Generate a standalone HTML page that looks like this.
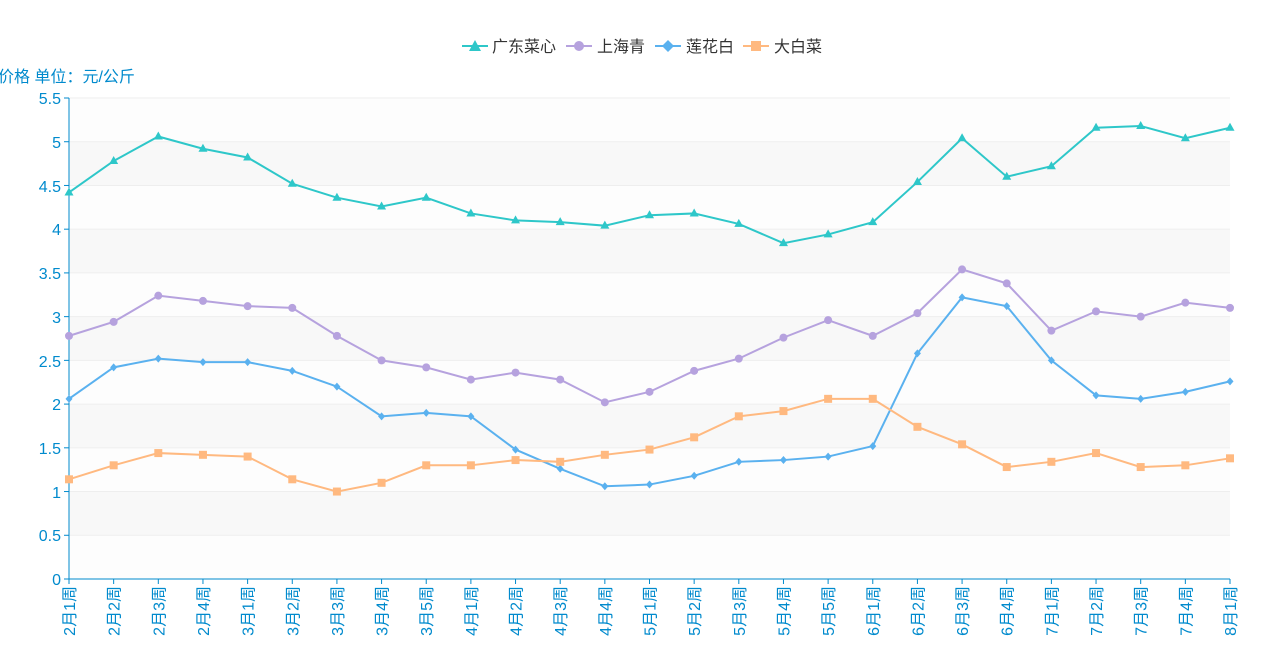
<!DOCTYPE html>
<html><head><meta charset="utf-8"><style>body{margin:0;background:#fff}svg{display:block;font-family:"Liberation Sans","Noto Sans CJK SC",sans-serif}</style></head>
<body>
<svg id="s" width="1282" height="658" viewBox="0 0 1282 658">
<g id="bands"></g>
<g font-size="16" fill="#008acd" text-anchor="end">
<text x="61" y="585">0</text><text x="61" y="541">0.5</text><text x="61" y="498">1</text><text x="61" y="454">1.5</text><text x="61" y="410">2</text><text x="61" y="367">2.5</text><text x="61" y="323">3</text><text x="61" y="279">3.5</text><text x="61" y="235">4</text><text x="61" y="192">4.5</text><text x="61" y="148">5</text><text x="61" y="104">5.5</text>
</g>
<text x="-2" y="82" font-size="16" fill="#008acd">价格 单位：元/公斤</text>
<g font-size="16" fill="#008acd" text-anchor="end">
<text transform="translate(75,586) rotate(-90)">2月1周</text>
<text transform="translate(119.7,586) rotate(-90)">2月2周</text>
<text transform="translate(164.3,586) rotate(-90)">2月3周</text>
<text transform="translate(209,586) rotate(-90)">2月4周</text>
<text transform="translate(253.6,586) rotate(-90)">3月1周</text>
<text transform="translate(298.3,586) rotate(-90)">3月2周</text>
<text transform="translate(342.9,586) rotate(-90)">3月3周</text>
<text transform="translate(387.6,586) rotate(-90)">3月4周</text>
<text transform="translate(432.2,586) rotate(-90)">3月5周</text>
<text transform="translate(476.9,586) rotate(-90)">4月1周</text>
<text transform="translate(521.5,586) rotate(-90)">4月2周</text>
<text transform="translate(566.2,586) rotate(-90)">4月3周</text>
<text transform="translate(610.8,586) rotate(-90)">4月4周</text>
<text transform="translate(655.5,586) rotate(-90)">5月1周</text>
<text transform="translate(700.2,586) rotate(-90)">5月2周</text>
<text transform="translate(744.8,586) rotate(-90)">5月3周</text>
<text transform="translate(789.5,586) rotate(-90)">5月4周</text>
<text transform="translate(834.1,586) rotate(-90)">5月5周</text>
<text transform="translate(878.8,586) rotate(-90)">6月1周</text>
<text transform="translate(923.4,586) rotate(-90)">6月2周</text>
<text transform="translate(968.1,586) rotate(-90)">6月3周</text>
<text transform="translate(1012.7,586) rotate(-90)">6月4周</text>
<text transform="translate(1057.4,586) rotate(-90)">7月1周</text>
<text transform="translate(1102,586) rotate(-90)">7月2周</text>
<text transform="translate(1146.7,586) rotate(-90)">7月3周</text>
<text transform="translate(1191.4,586) rotate(-90)">7月4周</text>
<text transform="translate(1236,586) rotate(-90)">8月1周</text>
</g>
<g font-size="16" fill="#333">
<line x1="462" y1="46" x2="488" y2="46" stroke="#2ec7c9" stroke-width="2"/><polygon points="475,40 481,51 469,51" fill="#2ec7c9"/><text x="492" y="52">广东菜心</text>
<line x1="566" y1="46" x2="592" y2="46" stroke="#b6a2de" stroke-width="2"/><circle cx="579" cy="46" r="5" fill="#b6a2de"/><text x="597" y="52">上海青</text>
<line x1="655" y1="46" x2="681" y2="46" stroke="#5ab1ef" stroke-width="2"/><polygon points="668,40 674,46 668,52 662,46" fill="#5ab1ef"/><text x="686" y="52">莲花白</text>
<line x1="743" y1="46" x2="769" y2="46" stroke="#ffb980" stroke-width="2"/><rect x="751" y="41" width="10" height="10" fill="#ffb980"/><text x="774" y="52">大白菜</text>
</g>
<g id="plot"></g>
</svg>
<script>
var X0=69,DX=(1230-69)/26,Y0=579,K=481/5.5,ns="http://www.w3.org/2000/svg";
function el(t,a,p){var e=document.createElementNS(ns,t);for(var k in a)e.setAttribute(k,a[k]);p.appendChild(e);return e;}
var b=document.getElementById('bands'),p=document.getElementById('plot');
for(var i=0;i<11;i++){var y1=Y0-(i+1)*0.5*K;el('rect',{x:X0,y:y1,width:1230-X0,height:0.5*K,fill:i%2?'#f8f8f8':'#fdfdfd'},b);}
for(var i=1;i<=11;i++){var y=Y0-i*0.5*K;el('line',{x1:X0,x2:1230,y1:y,y2:y,stroke:'#eee'},b);}
el('line',{x1:X0,x2:X0,y1:98,y2:Y0,stroke:'#008acd'},b);
el('line',{x1:X0,x2:1230,y1:Y0,y2:Y0,stroke:'#008acd'},b);
for(var i=0;i<27;i++)el('line',{x1:X0+i*DX,x2:X0+i*DX,y1:Y0,y2:Y0+5,stroke:'#008acd'},b);
for(var i=0;i<=11;i++)el('line',{x1:X0-5,x2:X0,y1:Y0-i*0.5*K,y2:Y0-i*0.5*K,stroke:'#008acd'},b);
var S=[
['#2ec7c9','t',[4.42,4.78,5.06,4.92,4.82,4.52,4.36,4.26,4.36,4.18,4.10,4.08,4.04,4.16,4.18,4.06,3.84,3.94,4.08,4.54,5.04,4.60,4.72,5.16,5.18,5.04,5.16]],
['#b6a2de','c',[2.78,2.94,3.24,3.18,3.12,3.10,2.78,2.50,2.42,2.28,2.36,2.28,2.02,2.14,2.38,2.52,2.76,2.96,2.78,3.04,3.54,3.38,2.84,3.06,3.00,3.16,3.10]],
['#5ab1ef','d',[2.06,2.42,2.52,2.48,2.48,2.38,2.20,1.86,1.90,1.86,1.48,1.26,1.06,1.08,1.18,1.34,1.36,1.40,1.52,2.58,3.22,3.12,2.50,2.10,2.06,2.14,2.26]],
['#ffb980','s',[1.14,1.30,1.44,1.42,1.40,1.14,1.00,1.10,1.30,1.30,1.36,1.34,1.42,1.48,1.62,1.86,1.92,2.06,2.06,1.74,1.54,1.28,1.34,1.44,1.28,1.30,1.38]]];
S.forEach(function(s){var pts=s[2].map(function(v,i){return [X0+i*DX,Y0-v*K];});
el('polyline',{points:pts.map(function(q){return q.join(',')}).join(' '),fill:'none',stroke:s[0],'stroke-width':2},p);
pts.forEach(function(q){var x=q[0],y=q[1];
if(s[1]=='t')el('polygon',{points:(x)+','+(y-5)+' '+(x+4.5)+','+(y+3)+' '+(x-4.5)+','+(y+3),fill:s[0]},p);
else if(s[1]=='c')el('circle',{cx:x,cy:y,r:4,fill:s[0]},p);
else if(s[1]=='d')el('polygon',{points:x+','+(y-4)+' '+(x+3.5)+','+y+' '+x+','+(y+4)+' '+(x-3.5)+','+y,fill:s[0]},p);
else el('rect',{x:x-4,y:y-4,width:8,height:8,fill:s[0]},p);});});
</script>
</body></html>
